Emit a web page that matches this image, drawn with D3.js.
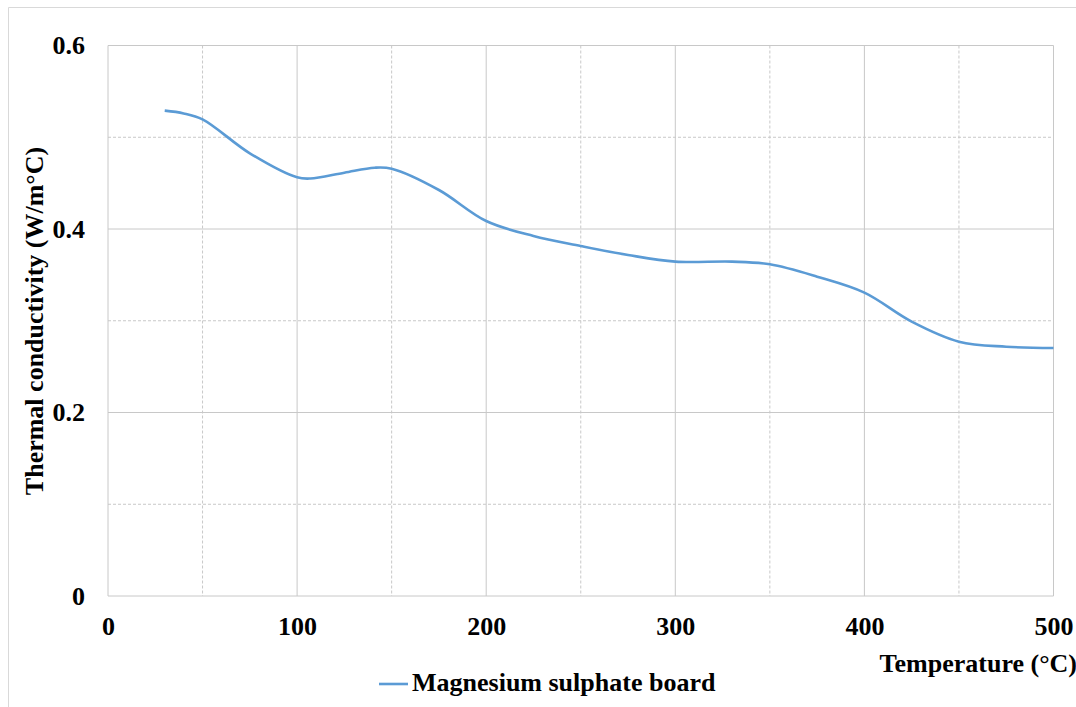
<!DOCTYPE html>
<html>
<head>
<meta charset="utf-8">
<script src="https://cdn.jsdelivr.net/npm/d3@7"></script>
<style>
  html, body { margin: 0; padding: 0; background: #fff; }
  svg text { font-family: "Liberation Serif", "Times New Roman", serif; font-weight: bold; fill: #000; }
</style>
</head>
<body>
<svg id="chart" width="1076" height="707"></svg>
<script>
// Measured thermal conductivity of the board versus temperature
const temperature = [30, 40, 50, 75, 100, 107, 125, 141, 150, 175, 200, 225, 250, 275, 300, 330, 350, 375, 400, 425, 450, 475, 500];
const conductivity = [0.529, 0.526, 0.5195, 0.4825, 0.4563, 0.455, 0.4614, 0.4668, 0.4657, 0.4425, 0.4087, 0.3924, 0.3815, 0.3717, 0.3644, 0.3644, 0.3615, 0.348, 0.3306, 0.299, 0.2772, 0.2717, 0.2703];
const xTicks = [0, 100, 200, 300, 400, 500];
const xMinor = [50, 150, 250, 350, 450];
const yTicks = [0, 0.2, 0.4, 0.6];
const yMinor = [0.1, 0.3, 0.5];
const seriesName = "Magnesium sulphate board";
const xTitle = "Temperature (°C)";
const yTitle = "Thermal conductivity (W/m°C)";

const svg = d3.select("#chart");
const plotLeft = 108, plotRight = 1053.5, plotTop = 45.5, plotBottom = 596;
const fontSize = "26px";

const x = d3.scaleLinear().domain([0, 500]).range([plotLeft, plotRight]);
const y = d3.scaleLinear().domain([0, 0.6]).range([plotBottom, plotTop]);

// outer frame
svg.append("path")
  .attr("d", "M8.5,707 V7.5 H1076")
  .attr("fill", "none").attr("stroke", "#d9d9d9").attr("stroke-width", 1);

const grid = svg.append("g");
// minor dashed grid
grid.selectAll("line.vminor").data(xMinor).join("line")
  .attr("x1", d => x(d)).attr("x2", d => x(d)).attr("y1", plotTop).attr("y2", plotBottom)
  .attr("stroke", "#c8c8c8").attr("stroke-dasharray", "3,2");
grid.selectAll("line.hminor").data(yMinor).join("line")
  .attr("y1", d => y(d)).attr("y2", d => y(d)).attr("x1", plotLeft).attr("x2", plotRight)
  .attr("stroke", "#c8c8c8").attr("stroke-dasharray", "3,2");
// major solid grid
grid.selectAll("line.vmajor").data(xTicks).join("line")
  .attr("x1", d => x(d)).attr("x2", d => x(d)).attr("y1", plotTop).attr("y2", plotBottom)
  .attr("stroke", "#c8c8c8");
grid.selectAll("line.hmajor").data(yTicks).join("line")
  .attr("y1", d => y(d)).attr("y2", d => y(d)).attr("x1", plotLeft).attr("x2", plotRight)
  .attr("stroke", "#c8c8c8");

// axes (labels only)
const xAxis = svg.append("g").attr("transform", `translate(0,${plotBottom})`)
  .call(d3.axisBottom(x).tickValues(xTicks).tickSize(0).tickPadding(21).tickFormat(d3.format("d")));
const yAxis = svg.append("g").attr("transform", `translate(${plotLeft},0)`)
  .call(d3.axisLeft(y).tickValues(yTicks).tickSize(0).tickPadding(23).tickFormat(d => d === 0 ? "0" : d3.format(".1f")(d)));
[xAxis, yAxis].forEach(a => {
  a.select(".domain").remove();
  a.selectAll("text").style("font-family", "'Liberation Serif', serif")
    .style("font-weight", "bold").style("font-size", fontSize).attr("fill", "#000");
});

// series line, smoothed through the measured points
const line = d3.line().x((d, i) => x(temperature[i])).y(d => y(d)).curve(d3.curveCatmullRom.alpha(0.5));
svg.append("path").datum(conductivity)
  .attr("d", line).attr("fill", "none")
  .attr("stroke", "#5b9bd5").attr("stroke-width", 2.6);

// axis titles
svg.append("text").attr("x", 1077).attr("y", 672).attr("text-anchor", "end")
  .style("font-size", fontSize).text(xTitle);
svg.append("text").attr("transform", "translate(43,321) rotate(-90)").attr("text-anchor", "middle")
  .style("font-size", fontSize).text(yTitle);

// legend
svg.append("line").attr("x1", 379).attr("x2", 408).attr("y1", 684).attr("y2", 684)
  .attr("stroke", "#5b9bd5").attr("stroke-width", 2.6);
svg.append("text").attr("x", 412).attr("y", 691)
  .style("font-size", fontSize).text(seriesName);
</script>
</body>
</html>
